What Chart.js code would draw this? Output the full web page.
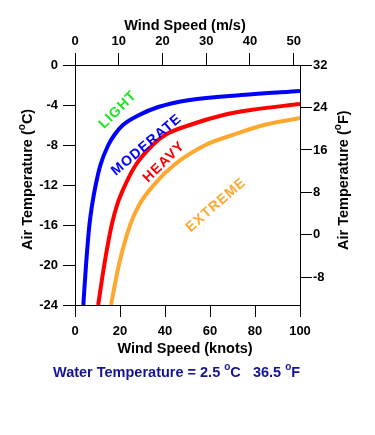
<!DOCTYPE html>
<html>
<head>
<meta charset="utf-8">
<script src="https://cdn.jsdelivr.net/npm/chart.js@4/dist/chart.umd.min.js"></script>
<style>
  html, body { margin: 0; padding: 0; background: #fff; }
  #wrap { width: 375px; height: 435px; }
</style>
</head>
<body>
<div id="wrap"><canvas id="chart" width="375" height="435"></canvas></div>
<script>
// axis ticks
const knotTicks = [0, 20, 40, 60, 80, 100];
const msTicks = [0, 10, 20, 30, 40, 50];
const celsiusTicks = [0, -4, -8, -12, -16, -20, -24];
const fahrenheitTicks = [32, 24, 16, 8, 0, -8];

// boundary curves (knots, deg C)
const lightModerateKnots = [3.7, 4.9, 6.4, 7.6, 9.2, 11.3, 14.8, 17.5, 21.3, 28.5, 37, 51, 74, 100];
const lightModerateTemps = [-24, -20, -16, -14, -12, -10, -8, -7, -6, -5, -4.2, -3.5, -3.0, -2.6];

const moderateHeavyKnots = [10.3, 13, 16.3, 18.7, 22.3, 27, 34.5, 40, 51, 66, 78, 100];
const moderateHeavyTemps = [-24, -20, -16, -14, -12, -10, -8, -7, -6, -5, -4.5, -3.9];

const heavyExtremeKnots = [16, 19.5, 24.5, 28.5, 35, 44, 58, 70, 84, 100];
const heavyExtremeTemps = [-24, -20, -16, -14, -12, -10, -8, -7, -6, -5.3];

// zone labels
const zoneNames = ['LIGHT', 'MODERATE', 'HEAVY', 'EXTREME'];
const zoneKnots = [19.1, 31.8, 39.6, 62.7];
const zoneTemps = [-4.5, -8.0, -9.7, -14.0];
const zoneAngles = [-45, -40, -44, -41];
const zoneColors = ['#1ee61e', '#0000ff', '#ff0000', '#ffa830'];

const waterTempC = '2.5';
const waterTempF = '36.5';

const toPoints = (xs, ys) => xs.map((x, i) => ({ x, y: ys[i] }));

const tickFont = { family: '"Liberation Sans", Arial, sans-serif', size: 13, weight: 'bold' };
const axisGrid = { display: true, drawOnChartArea: false, drawTicks: true, tickLength: 12, color: '#000', lineWidth: 1 };
const axisBorder = { display: true, color: '#000', width: 1 };

function fixedTicks(values) {
  return scale => { scale.ticks = values.map(value => ({ value })); };
}

function curve(xs, ys, color) {
  return {
    data: toPoints(xs, ys),
    borderColor: color,
    borderWidth: 4,
    pointRadius: 0,
    fill: false,
    cubicInterpolationMode: 'monotone',
    xAxisID: 'x',
    yAxisID: 'y',
  };
}

// draws text with a small raised "o" for the degree sign pieces
function drawPieces(ctx, pieces, x, y, size) {
  let cx = x;
  pieces.forEach(piece => {
    const sup = piece.sup;
    ctx.font = `bold ${sup ? Math.round(size * 0.72) : size}px "Liberation Sans", Arial, sans-serif`;
    ctx.fillText(piece.text, cx, sup ? y - size * 0.38 : y);
    cx += ctx.measureText(piece.text).width;
  });
}

const decorations = {
  id: 'decorations',
  afterDraw(chart) {
    const { ctx, scales } = chart;
    ctx.save();
    ctx.textBaseline = 'middle';
    ctx.textAlign = 'left';

    // zone labels
    zoneNames.forEach((name, i) => {
      ctx.save();
      ctx.translate(scales.x.getPixelForValue(zoneKnots[i]), scales.y.getPixelForValue(zoneTemps[i]));
      ctx.rotate(zoneAngles[i] * Math.PI / 180);
      ctx.font = 'bold 14px "Liberation Sans", Arial, sans-serif';
      ctx.letterSpacing = '1px';
      ctx.fillStyle = zoneColors[i];
      ctx.textAlign = 'center';
      ctx.fillText(name, 0, 0);
      ctx.restore();
    });

    ctx.fillStyle = '#000';
    ctx.textAlign = 'center';
    ctx.font = 'bold 14.5px "Liberation Sans", Arial, sans-serif';
    ctx.fillText('Wind Speed (m/s)', 185, 26);
    ctx.fillText('Wind Speed (knots)', 185, 349);

    ctx.textAlign = 'left';
    ctx.save();
    ctx.translate(28, 250);
    ctx.rotate(-Math.PI / 2);
    drawPieces(ctx, [{ text: 'Air Temperature (' }, { text: 'o', sup: true }, { text: 'C)' }], 0, 0, 14.5);
    ctx.restore();

    ctx.save();
    ctx.translate(344, 250);
    ctx.rotate(-Math.PI / 2);
    drawPieces(ctx, [{ text: 'Air Temperature (' }, { text: 'o', sup: true }, { text: 'F)' }], 0, 0, 14.5);
    ctx.restore();

    ctx.fillStyle = '#141496';
    drawPieces(ctx, [
      { text: 'Water Temperature = ' + waterTempC + ' ' },
      { text: 'o', sup: true },
      { text: 'C   ' + waterTempF + ' ' },
      { text: 'o', sup: true },
      { text: 'F' },
    ], 53, 373, 14.5);
    ctx.restore();
  },
};

new Chart(document.getElementById('chart'), {
  type: 'line',
  data: {
    datasets: [
      curve(lightModerateKnots, lightModerateTemps, '#0000ff'),
      curve(moderateHeavyKnots, moderateHeavyTemps, '#ff0000'),
      curve(heavyExtremeKnots, heavyExtremeTemps, '#ffa830'),
    ],
  },
  options: {
    responsive: false,
    animation: false,
    devicePixelRatio: 1,
    layout: { padding: 0 },
    plugins: { legend: { display: false }, tooltip: { enabled: false } },
    scales: {
      x: {
        type: 'linear', position: 'bottom', min: 0, max: 100,
        afterBuildTicks: fixedTicks(knotTicks),
        afterFit: scale => { scale.height = 130; },
        grid: axisGrid, border: axisBorder,
        ticks: { font: tickFont, color: '#000', padding: 7, maxRotation: 0 },
      },
      xTop: {
        type: 'linear', position: 'top', min: 0, max: 51.44,
        afterBuildTicks: fixedTicks(msTicks),
        afterFit: scale => { scale.height = 65; },
        grid: axisGrid, border: axisBorder,
        ticks: { font: tickFont, color: '#000', padding: 4, maxRotation: 0 },
      },
      y: {
        type: 'linear', position: 'left', min: -24, max: 0,
        afterBuildTicks: fixedTicks(celsiusTicks),
        afterFit: scale => { scale.width = 75; },
        grid: axisGrid, border: axisBorder,
        ticks: { font: tickFont, color: '#000', padding: 5 },
      },
      yRight: {
        type: 'linear', position: 'right', min: -13.2, max: 32,
        afterBuildTicks: fixedTicks(fahrenheitTicks),
        afterFit: scale => { scale.width = 75; },
        grid: axisGrid, border: axisBorder,
        ticks: { font: tickFont, color: '#000', padding: 1 },
      },
    },
  },
  plugins: [decorations],
});
</script>
</body>
</html>
